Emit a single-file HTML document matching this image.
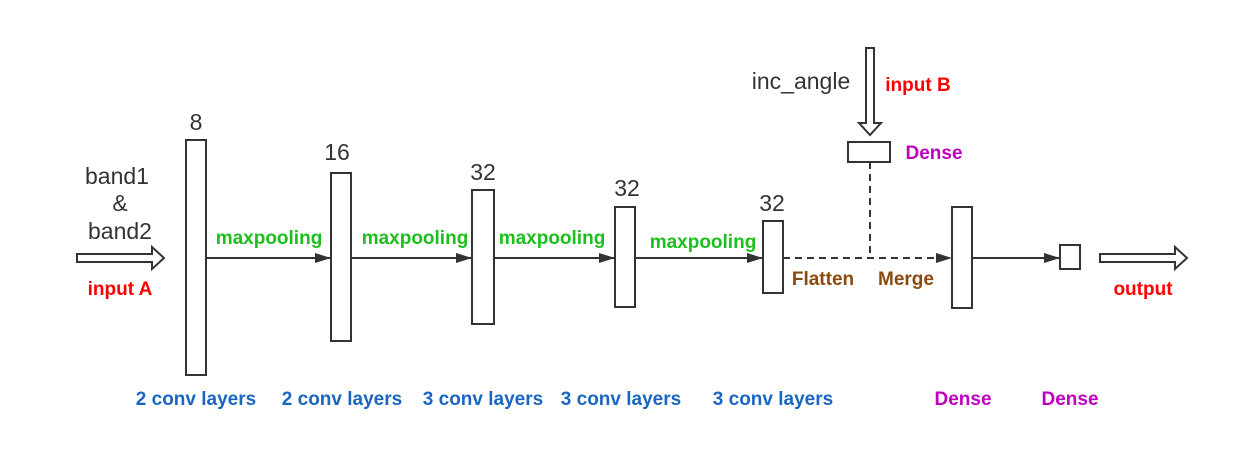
<!DOCTYPE html>
<html><head><meta charset="utf-8"><style>
body{margin:0;background:#fff}
svg text{font-family:"Liberation Sans",sans-serif}
.n{font-size:23px;fill:#333}
.b{font-size:19px;font-weight:bold}
.g{fill:#1cbf1c}.r{fill:#f00}.bl{fill:#1a66c2}.p{fill:#c000c0}.br{fill:#8b4a0f}
</style></head><body>
<svg width="1248" height="449" viewBox="0 0 1248 449">
<defs><marker id="ah" markerWidth="16" markerHeight="10" refX="16" refY="5" orient="auto" markerUnits="userSpaceOnUse"><path d="M0,0L16,5L0,10Z" fill="#333"/></marker></defs>
<g stroke="#333" stroke-width="2" fill="#fff">
<path d="M77,254H152V247L164,258L152,269V262H77Z"/>
<path d="M1100,254H1175V247L1187,258L1175,269V262H1100Z"/>
<path d="M866,48V123H859L870,135L881,123H874V48Z"/>
<line x1="206" y1="258" x2="331" y2="258" marker-end="url(#ah)"/>
<line x1="351" y1="258" x2="472" y2="258" marker-end="url(#ah)"/>
<line x1="494" y1="258" x2="615" y2="258" marker-end="url(#ah)"/>
<line x1="635" y1="258" x2="763" y2="258" marker-end="url(#ah)"/>
<line x1="783" y1="258" x2="952" y2="258" stroke-dasharray="7,5" marker-end="url(#ah)"/>
<line x1="870" y1="162" x2="870" y2="258" stroke-dasharray="7,5"/>
<line x1="972" y1="258" x2="1060" y2="258" marker-end="url(#ah)"/>
<rect x="186" y="140" width="20" height="235"/>
<rect x="331" y="173" width="20" height="168"/>
<rect x="472" y="190" width="22" height="134"/>
<rect x="615" y="207" width="20" height="100"/>
<rect x="763" y="221" width="20" height="72"/>
<rect x="952" y="207" width="20" height="101"/>
<rect x="1060" y="245" width="20" height="24"/>
<rect x="848" y="142" width="42" height="20"/>
</g>
<text class="n" x="117" y="184" text-anchor="middle">band1</text>
<text class="n" x="120" y="211" text-anchor="middle">&amp;</text>
<text class="n" x="120" y="239" text-anchor="middle">band2</text>
<text class="n" x="196" y="130" text-anchor="middle">8</text>
<text class="n" x="337" y="160" text-anchor="middle">16</text>
<text class="n" x="483" y="180" text-anchor="middle">32</text>
<text class="n" x="627" y="196" text-anchor="middle">32</text>
<text class="n" x="772" y="211" text-anchor="middle">32</text>
<text class="n" x="801" y="89" text-anchor="middle">inc_angle</text>
<text class="b r" x="120" y="295" text-anchor="middle">input A</text>
<text class="b r" x="918" y="91" text-anchor="middle">input B</text>
<text class="b r" x="1143" y="295" text-anchor="middle">output</text>
<text class="b p" x="934" y="159" text-anchor="middle">Dense</text>
<text class="b g" x="269" y="244" text-anchor="middle">maxpooling</text>
<text class="b g" x="415" y="244" text-anchor="middle">maxpooling</text>
<text class="b g" x="552" y="244" text-anchor="middle">maxpooling</text>
<text class="b g" x="703" y="248" text-anchor="middle">maxpooling</text>
<text class="b br" x="823" y="285" text-anchor="middle">Flatten</text>
<text class="b br" x="906" y="285" text-anchor="middle">Merge</text>
<text class="b bl" x="196" y="405" text-anchor="middle">2 conv layers</text>
<text class="b bl" x="342" y="405" text-anchor="middle">2 conv layers</text>
<text class="b bl" x="483" y="405" text-anchor="middle">3 conv layers</text>
<text class="b bl" x="621" y="405" text-anchor="middle">3 conv layers</text>
<text class="b bl" x="773" y="405" text-anchor="middle">3 conv layers</text>
<text class="b p" x="963" y="405" text-anchor="middle">Dense</text>
<text class="b p" x="1070" y="405" text-anchor="middle">Dense</text>
</svg>
</body></html>
